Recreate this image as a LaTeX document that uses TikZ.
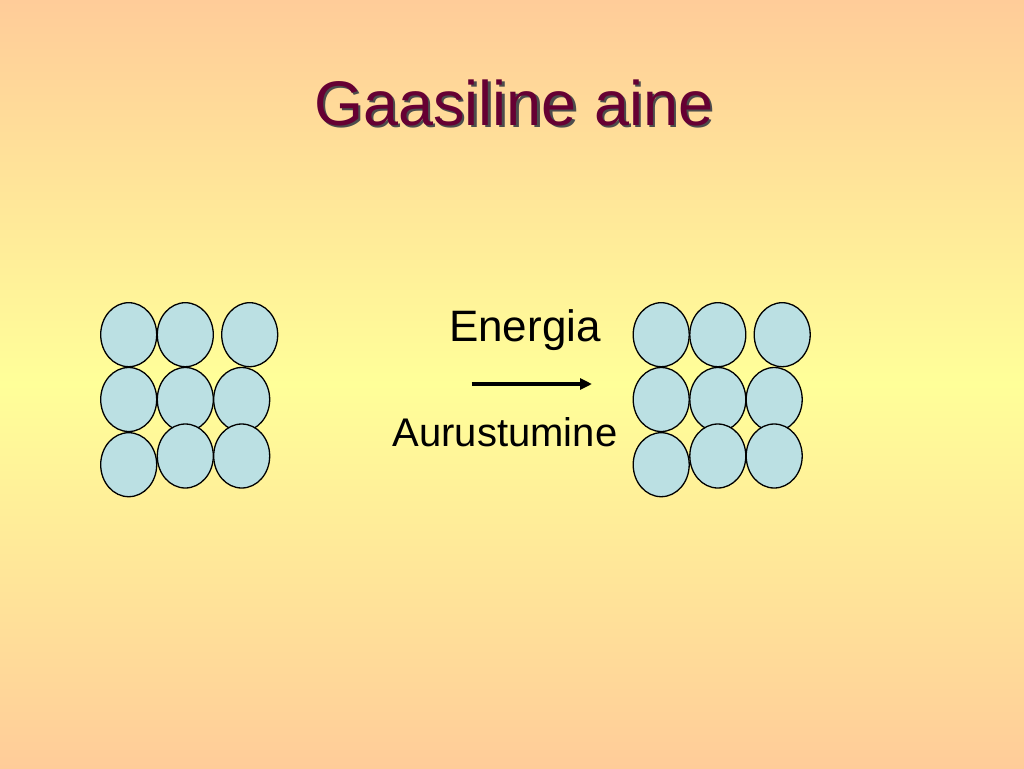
\documentclass[tikz,border=0pt]{standalone}
\usepackage{fontspec}
\setmainfont{Liberation Sans}
\usetikzlibrary{shapes.geometric,arrows.meta}
\definecolor{peach}{HTML}{FFCC99}
\definecolor{paleyellow}{HTML}{FFFF99}
\definecolor{titlered}{HTML}{660033}
\definecolor{ballblue}{HTML}{BBE0E3}
\tikzset{
  ball/.style={ellipse, draw=black, line width=1.3pt, fill=ballblue,
    minimum width=56pt, minimum height=64pt, inner sep=0pt},
  titletext/.style={font=\fontsize{63}{70}\selectfont, anchor=base},
  labeltext/.style={font=\fontsize{40}{48}\selectfont, anchor=base, text=black},
  arrowline/.style={line width=3.2pt, -{Triangle[length=12pt,width=11pt]}}
}
\begin{document}
\begin{tikzpicture}[x=1pt,y=-1pt]
\useasboundingbox (0,0) rectangle (1024,768);
\shade[top color=peach, bottom color=paleyellow] (0,0) rectangle (1024,384);
\shade[top color=paleyellow, bottom color=peach] (0,384) rectangle (1024,768);
% title
\node[titletext, text=black!70] (titleshadow) at (516.2,127.2) {Gaasiline aine};
\node[titletext, text=titlered] (title) at (514,125) {Gaasiline aine};
% balls
\foreach \g/\dx in {L/0, R/532.5} {
  \node[ball] (\g11) at (128.7+\dx,334.7) {};
  \node[ball] (\g12) at (185.3+\dx,334.7) {};
  \node[ball] (\g13) at (249.7+\dx,334.7) {};
  \node[ball] (\g21) at (128.7+\dx,399.5) {};
  \node[ball] (\g22) at (185.3+\dx,399.5) {};
  \node[ball] (\g23) at (241.7+\dx,399.5) {};
  \node[ball] (\g31) at (128.7+\dx,464.7) {};
  \node[ball] (\g32) at (185.3+\dx,456) {};
  \node[ball] (\g33) at (241.7+\dx,456) {};
}
% labels and arrow
\node[labeltext, font=\fontsize{44}{52}\selectfont] (energia) at (525,341) {Energia};
\node[labeltext] (aur) at (505,446) {Aurustumine};
\coordinate (astart) at (471.7,384);
\coordinate (aend) at (592,384);
\draw[arrowline] (astart) -- (aend);
\end{tikzpicture}
\end{document}
